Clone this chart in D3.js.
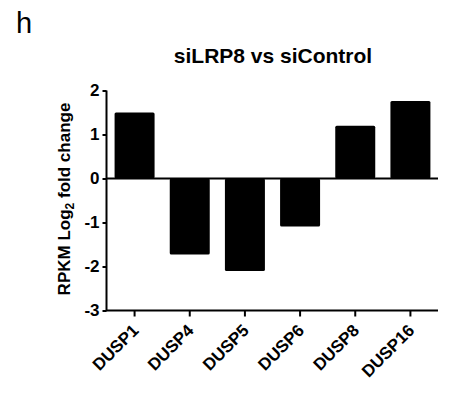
<!DOCTYPE html>
<html>
<head>
<meta charset="utf-8">
<script src="https://cdn.jsdelivr.net/npm/d3@7"></script>
<style>
  body { margin: 0; background: #fff; }
  svg { display: block; }
  text { font-family: Arial, "Liberation Sans", Helvetica, sans-serif; }
</style>
</head>
<body>
<svg id="chart" width="476" height="394"></svg>
<script>
const categories = ["DUSP1", "DUSP4", "DUSP5", "DUSP6", "DUSP8", "DUSP16"];
const values = [1.5, -1.73, -2.1, -1.09, 1.2, 1.76];
const yTicks = [-3, -2, -1, 0, 1, 2];
const titleText = "siLRP8 vs siControl";
const panelLabel = "h";

const svg = d3.select("#chart");

const x = d3.scaleBand()
  .domain(categories)
  .range([107, 438])
  .paddingInner(0.275)
  .paddingOuter(0.1375);

const y = d3.scaleLinear()
  .domain([-3, 2])
  .range([310.5, 90.5]);

// bars
svg.append("g").selectAll("rect")
  .data(values)
  .join("rect")
  .attr("x", (d, i) => x(categories[i]))
  .attr("width", x.bandwidth())
  .attr("y", d => Math.min(y(d), y(0)))
  .attr("height", d => Math.abs(y(d) - y(0)))
  .attr("rx", 1.5)
  .attr("fill", "#000");

// zero line
svg.append("line")
  .attr("x1", 106).attr("x2", 438)
  .attr("y1", y(0)).attr("y2", y(0))
  .attr("stroke", "#000").attr("stroke-width", 2);

// y axis
const yAxis = svg.append("g")
  .attr("transform", "translate(106.5,0)")
  .call(d3.axisLeft(y).tickValues(yTicks).tickSize(4).tickPadding(3).tickFormat(d => String(d)));
yAxis.select(".domain").attr("stroke-width", 2).attr("d", `M0,${y(2)}V${y(-3)}`);
yAxis.selectAll(".tick line").attr("stroke-width", 2);
yAxis.selectAll(".tick text")
  .attr("font-size", 17).attr("font-weight", "bold").attr("fill", "#000")
  .attr("font-family", "Arial, 'Liberation Sans', sans-serif");

// x axis
const xAxis = svg.append("g")
  .attr("transform", `translate(0,${y(-3)})`)
  .call(d3.axisBottom(x).tickSize(6).tickSizeOuter(0));
xAxis.select(".domain").attr("stroke-width", 2).attr("d", "M106,0H438");
xAxis.selectAll(".tick line").attr("stroke-width", 2);
xAxis.selectAll(".tick text")
  .attr("font-size", 17).attr("font-weight", "bold").attr("fill", "#000")
  .attr("font-family", "Arial, 'Liberation Sans', sans-serif")
  .attr("text-anchor", "end")
  .attr("y", 0).attr("dy", 0)
  .attr("transform", "translate(5,21) rotate(-45)");

// y label
const yl = svg.append("text")
  .attr("transform", "translate(70,199) rotate(-90)")
  .attr("text-anchor", "middle")
  .attr("font-size", 17).attr("font-weight", "bold").attr("fill", "#000");
yl.append("tspan").text("RPKM Log");
yl.append("tspan").text("2").attr("font-size", 12).attr("dy", 4);
yl.append("tspan").text(" fold change").attr("dy", -4);

// title
svg.append("text")
  .attr("x", 273).attr("y", 63)
  .attr("text-anchor", "middle")
  .attr("font-size", 21).attr("font-weight", "bold").attr("fill", "#000")
  .text(titleText);

// panel label
svg.append("text")
  .attr("x", 16).attr("y", 33)
  .attr("font-size", 29).attr("fill", "#000")
  .text(panelLabel);
</script>
</body>
</html>
